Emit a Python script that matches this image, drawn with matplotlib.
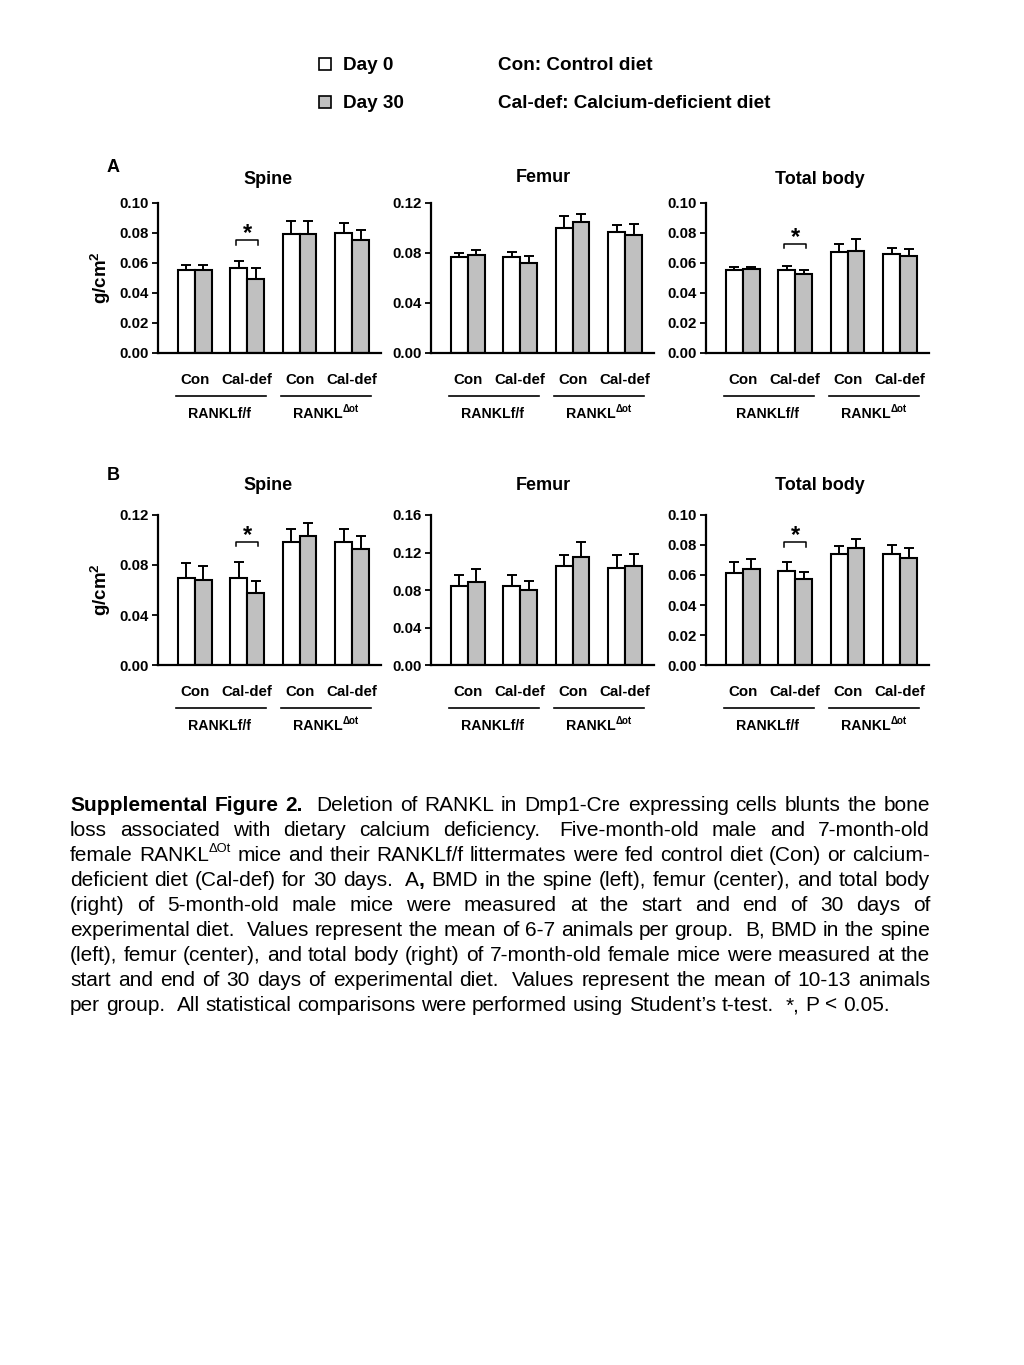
import re
import numpy as np
import matplotlib
matplotlib.use("Agg")
import matplotlib.pyplot as plt
from matplotlib.patches import Rectangle

plt.rcParams['font.family'] = ['Liberation Sans', 'DejaVu Sans']
plt.rcParams['mathtext.fontset'] = 'custom'
plt.rcParams['mathtext.rm'] = 'Liberation Sans'
plt.rcParams['mathtext.bf'] = 'Liberation Sans:bold'
plt.rcParams['mathtext.it'] = 'Liberation Sans:italic'

# ---------------- data ----------------
diet_labels = ['Con', 'Cal-def', 'Con', 'Cal-def']
genotypes = ['RANKLf/f', 'RANKL']
geno_sup = 'Δot'
series_names = ['Day 0', 'Day 30']
diet_legend = ['Con: Control diet', 'Cal-def: Calcium-deficient diet']
panel_titles = ['Spine', 'Femur', 'Total body']
row_labels = ['A', 'B']

A_spine_day0 = [0.0551, 0.0569, 0.0791, 0.0798]
A_spine_day0_err = [0.0038, 0.0042, 0.0091, 0.0071]
A_spine_day30 = [0.0551, 0.0496, 0.0793, 0.0756]
A_spine_day30_err = [0.0038, 0.0071, 0.0087, 0.0066]

A_femur_day0 = [0.0769, 0.0766, 0.1002, 0.0964]
A_femur_day0_err = [0.0029, 0.0038, 0.0096, 0.0059]
A_femur_day30 = [0.0782, 0.0723, 0.1050, 0.0946]
A_femur_day30_err = [0.0043, 0.0051, 0.0064, 0.0088]

A_total_day0 = [0.0556, 0.0556, 0.0673, 0.0662]
A_total_day0_err = [0.0020, 0.0022, 0.0056, 0.0036]
A_total_day30 = [0.0562, 0.0527, 0.0680, 0.0647]
A_total_day30_err = [0.0011, 0.0024, 0.0082, 0.0046]

B_spine_day0 = [0.0696, 0.0696, 0.0984, 0.0987]
B_spine_day0_err = [0.0120, 0.0131, 0.0104, 0.0101]
B_spine_day30 = [0.0683, 0.0573, 0.1032, 0.0931]
B_spine_day30_err = [0.0109, 0.0099, 0.0104, 0.0101]

B_femur_day0 = [0.0844, 0.0844, 0.1053, 0.1039]
B_femur_day0_err = [0.0113, 0.0121, 0.0124, 0.0131]
B_femur_day30 = [0.0890, 0.0801, 0.1152, 0.1053]
B_femur_day30_err = [0.0138, 0.0096, 0.0157, 0.0128]

B_total_day0 = [0.0615, 0.0624, 0.0741, 0.0737]
B_total_day0_err = [0.0069, 0.0064, 0.0055, 0.0062]
B_total_day30 = [0.0642, 0.0571, 0.0781, 0.0715]
B_total_day30_err = [0.0062, 0.0051, 0.0062, 0.0068]

A_spine_ticks = [0.00, 0.02, 0.04, 0.06, 0.08, 0.10]
A_femur_ticks = [0.00, 0.04, 0.08, 0.12]
A_total_ticks = [0.00, 0.02, 0.04, 0.06, 0.08, 0.10]
B_spine_ticks = [0.00, 0.04, 0.08, 0.12]
B_femur_ticks = [0.00, 0.04, 0.08, 0.12, 0.16]
B_total_ticks = [0.00, 0.02, 0.04, 0.06, 0.08, 0.10]

# significance brackets: (group index, bracket top, leg bottom)
A_spine_sig = (1, 0.0750, 0.0722)
A_total_sig = (1, 0.0729, 0.0700)
B_spine_sig = (1, 0.0987, 0.0950)
B_total_sig = (1, 0.0819, 0.0790)

caption_lines = [
    "<b>Supplemental</b> <b>Figure</b> <b>2.</b>  Deletion of RANKL in Dmp1-Cre expressing cells blunts the bone",
    "loss associated with dietary calcium deficiency.  Five-month-old male and 7-month-old",
    "female RANKL<s>ΔOt</s> mice and their RANKLf/f littermates were fed control diet (Con) or calcium-",
    "deficient diet (Cal-def) for 30 days.  A<b>,</b> BMD in the spine (left), femur (center), and total body",
    "(right) of 5-month-old male mice were measured at the start and end of 30 days of",
    "experimental diet.  Values represent the mean of 6-7 animals per group.  B, BMD in the spine",
    "(left), femur (center), and total body (right) of 7-month-old female mice were measured at the",
    "start and end of 30 days of experimental diet.  Values represent the mean of 10-13 animals",
    "per group.  All statistical comparisons were performed using Student’s t-test.  *, P < 0.05.",
]

# ---------------- layout ----------------
W, H, DPI = 1024, 1365, 100
fig = plt.figure(figsize=(W / DPI, H / DPI), dpi=DPI)
fig.patch.set_facecolor('white')


def fx(x):
    return x / W


def fy(y):
    return 1 - y / H


GREY = '#c0c0c0'
XLIM = (-0.7, 3.55)
AX_W = 223
col_left = [158, 431, 706]
row_top = [203, 515]
row_bot = [353, 665]
BW = 0.32
positions = np.arange(4)

panels = [
    [(A_spine_day0, A_spine_day0_err, A_spine_day30, A_spine_day30_err, A_spine_ticks, A_spine_sig),
     (A_femur_day0, A_femur_day0_err, A_femur_day30, A_femur_day30_err, A_femur_ticks, None),
     (A_total_day0, A_total_day0_err, A_total_day30, A_total_day30_err, A_total_ticks, A_total_sig)],
    [(B_spine_day0, B_spine_day0_err, B_spine_day30, B_spine_day30_err, B_spine_ticks, B_spine_sig),
     (B_femur_day0, B_femur_day0_err, B_femur_day30, B_femur_day30_err, B_femur_ticks, None),
     (B_total_day0, B_total_day0_err, B_total_day30, B_total_day30_err, B_total_ticks, B_total_sig)],
]

title_y = [[180, 178, 180], [485, 485, 485]]
title_x = [268, 543, 820]

for r in range(2):
    for c in range(3):
        d0, e0, d30, e30, ticks, sig = panels[r][c]
        top, bot = row_top[r], row_bot[r]
        hpx = bot - top
        ax = fig.add_axes([fx(col_left[c]), fy(bot), AX_W / W, hpx / H])
        ax.bar(positions - BW / 2, d0, BW, color='white', edgecolor='black', linewidth=1.5, zorder=2)
        ax.bar(positions + BW / 2, d30, BW, color=GREY, edgecolor='black', linewidth=1.5, zorder=2)
        ax.errorbar(positions - BW / 2, d0, yerr=[np.zeros(4), e0], fmt='none', ecolor='black',
                    elinewidth=1.4, capsize=3.5, capthick=1.4, zorder=3)
        ax.errorbar(positions + BW / 2, d30, yerr=[np.zeros(4), e30], fmt='none', ecolor='black',
                    elinewidth=1.4, capsize=3.5, capthick=1.4, zorder=3)
        ax.set_xlim(*XLIM)
        ax.set_ylim(ticks[0], ticks[-1])
        ax.set_yticks(ticks)
        ax.set_yticklabels([f'{t:.2f}' for t in ticks], fontsize=10.8, fontweight='bold')
        ax.set_xticks([])
        for s in ['top', 'right']:
            ax.spines[s].set_visible(False)
        for s in ['left', 'bottom']:
            ax.spines[s].set_linewidth(1.6)
        ax.tick_params(axis='y', direction='out', length=4.5, width=1.3, pad=2)
        ax.patch.set_alpha(0)

        if sig is not None:
            g, ytop, yleg = sig
            ax.plot([g - 0.21, g - 0.21, g + 0.21, g + 0.21], [yleg, ytop, ytop, yleg],
                    color='black', lw=1.1, clip_on=False)
            ax.text(g, ytop, '*', ha='center', va='baseline', fontsize=17, fontweight='bold')

        tr = ax.get_xaxis_transform()
        for x, lab in zip(positions, diet_labels):
            ax.text(x, -27 / hpx, lab, transform=tr, ha='center', va='center',
                    fontsize=10.8, fontweight='bold')
        for cc in [0.5, 2.5]:
            ax.plot([cc - 0.85, cc + 0.85], [-43 / hpx] * 2, transform=tr, clip_on=False,
                    color='black', lw=1.2)
        ax.text(0.47, -61 / hpx, genotypes[0], transform=tr, ha='center', va='center',
                fontsize=10.2, fontweight='bold')
        ax.text(2.5 + 0.32, -61 / hpx, genotypes[1], transform=tr, ha='right', va='center',
                fontsize=10.2, fontweight='bold')
        ax.text(2.5 + 0.31, -56 / hpx, geno_sup, transform=tr, ha='left', va='center',
                fontsize=7, fontweight='bold')

        fig.text(fx(title_x[c]), fy(title_y[r][c]), panel_titles[c], ha='center', va='center',
                 fontsize=13, fontweight='bold')

# panel letters and y labels
fig.text(fx(113), fy(168), row_labels[0], ha='center', va='center', fontsize=13, fontweight='bold')
fig.text(fx(113), fy(475), row_labels[1], ha='center', va='center', fontsize=13, fontweight='bold')
for yc in [278, 590]:
    fig.text(fx(101), fy(yc), r'g/cm$^{\mathbf{2}}$', rotation=90, ha='center', va='center',
             fontsize=13.5, fontweight='bold')

# legend
for i, (name, fc) in enumerate(zip(series_names, ['white', GREY])):
    yc = [65.5, 103][i]
    fig.add_artist(Rectangle((fx(319), fy(yc + 4.5)), 12 / W, 12 / H, transform=fig.transFigure,
                             facecolor=fc, edgecolor='black', linewidth=1.2))
    fig.text(fx(343), fy(yc), name, ha='left', va='center', fontsize=13.6, fontweight='bold')
    fig.text(fx(498), fy(yc), diet_legend[i], ha='left', va='center', fontsize=13.6, fontweight='bold')

# ---------------- caption (justified) ----------------
renderer = fig.canvas.get_renderer()
probe_txt = caption_lines[-1].replace('<b>', '').replace('</b>', '')
probe = fig.text(0, 0, probe_txt, fontsize=10)
w10 = probe.get_window_extent(renderer).width
probe.remove()
CAP = 10 * 817 / w10
EM = CAP * DPI / 72
SPACE = 0.278 * EM
LEFT, RIGHT = 70, 930


def parse(line):
    segs = []
    nsp = 0
    for w in line.split(' '):
        if w == '':
            nsp += 1
            continue
        pieces = re.findall(r'<b>(.*?)</b>|<s>(.*?)</s>|(.+?)(?=<b>|<s>|$)', w)
        first = True
        for b, s, n in pieces:
            if b:
                seg = [b, 'bold', False]
            elif s:
                seg = [s, 'normal', True]
            else:
                seg = [n, 'normal', False]
            seg.append(nsp if first else 0)
            segs.append(seg)
            first = False
        nsp = 1
    return segs


for i, line in enumerate(caption_lines):
    baseline = 805 + 25 * i + 6
    segs = parse(line)
    items = []
    for txt, wt, sup, nsp in segs:
        t = fig.text(0, 0, txt, fontsize=CAP * 0.62 if sup else CAP, fontweight=wt,
                     ha='left', va='baseline')
        wdt = t.get_window_extent(renderer).width
        items.append((t, wdt, sup, nsp))
    natural = sum(it[1] for it in items) + sum(it[3] for it in items) * SPACE
    ngaps = sum(1 for it in items if it[3] > 0)
    extra = 0
    if i < len(caption_lines) - 1 and ngaps > 0:
        extra = (RIGHT - LEFT - natural) / ngaps
    x = LEFT
    for t, wdt, sup, nsp in items:
        if nsp > 0:
            x += nsp * SPACE + extra
        yb = baseline - (0.42 * EM if sup else 0)
        t.set_position((fx(x), fy(yb)))
        x += wdt

fig.savefig('out.png', dpi=DPI, facecolor='white')
